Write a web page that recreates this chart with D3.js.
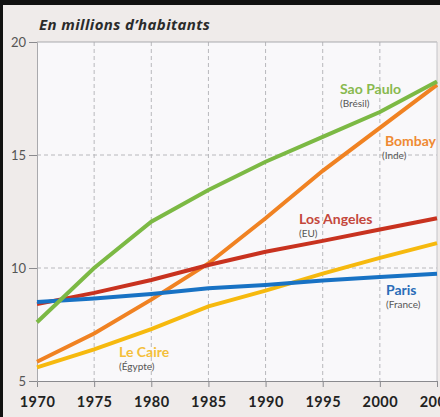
<!DOCTYPE html>
<html>
<head>
<meta charset="utf-8">
<script src="https://cdn.jsdelivr.net/npm/d3@7"></script>
<style>
  html, body { margin: 0; padding: 0; background: #efebea; }
  svg { display: block; }
</style>
</head>
<body>
<div id="chart"></div>
<script>
// années (axe des x)
const years = [1970, 1975, 1980, 1985, 1990, 1995, 2000, 2005];
const yTicks = [5, 10, 15, 20];

// population en millions
const saoPaulo   = [7.6, 10.0, 12.05, 13.45, 14.7, 15.8, 16.9, 18.25];
const bombay     = [5.85, 7.1, 8.6, 10.2, 12.2, 14.3, 16.2, 18.1];
const losAngeles = [8.4, 8.9, 9.47, 10.13, 10.72, 11.2, 11.7, 12.2];
const paris      = [8.5, 8.65, 8.85, 9.1, 9.25, 9.45, 9.6, 9.75];
const leCaire    = [5.6, 6.4, 7.3, 8.3, 9.0, 9.75, 10.45, 11.1];

const cities = [
    { name: "Le Caire",    country: "(Égypte)",  values: leCaire,    color: "#f6b90e", text: "#f4bf3a" },
    { name: "Bombay",      country: "(Inde)",    values: bombay,     color: "#f08222", text: "#ef8a33" },
    { name: "Los Angeles", country: "(EU)",      values: losAngeles, color: "#c8321f", text: "#c4473b" },
    { name: "Paris",       country: "(France)",  values: paris,      color: "#1872c4", text: "#2a6cb8" },
    { name: "Sao Paulo",   country: "(Brésil)",  values: saoPaulo,   color: "#7cb944", text: "#88b94f" }
];

// où poser les étiquettes (px)
const labelPos = {
    "Sao Paulo":   { x: 340, y: 94,  anchor: "start" },
    "Bombay":      { x: 436, y: 146, anchor: "end", sub: 382 },
    "Los Angeles": { x: 299, y: 224, anchor: "start" },
    "Paris":       { x: 386, y: 295, anchor: "start" },
    "Le Caire":    { x: 119, y: 357, anchor: "start" }
};

const width = 440, height = 417;
const m = { left: 37, right: 437, top: 42, bottom: 381 };

const svg = d3.select("#chart").append("svg")
    .attr("width", width)
    .attr("height", height);

svg.append("rect")
    .attr("width", width).attr("height", height)
    .attr("fill", "#efebea");

// cadre noir (haut + gauche)
svg.append("rect").attr("x", 0).attr("y", 0).attr("width", width).attr("height", 5).attr("fill", "#111");
svg.append("rect").attr("x", 0).attr("y", 0).attr("width", 3).attr("height", height).attr("fill", "#111");

const x = d3.scaleLinear().domain([1970, 2005]).range([m.left, m.right]);
const y = d3.scaleLinear().domain([5, 20]).range([m.bottom, m.top]);

svg.append("rect")
    .attr("x", m.left).attr("y", m.top)
    .attr("width", m.right - m.left).attr("height", m.bottom - m.top)
    .attr("fill", "#f9f8fa");

svg.append("text")
    .attr("x", 39).attr("y", 30)
    .attr("font-family", "'Open Sans', Lato, sans-serif")
    .attr("font-style", "italic")
    .attr("font-weight", "bold")
    .attr("font-size", 15)
    .attr("letter-spacing", 0.4)
    .attr("fill", "#2b2b2b")
    .text("En millions d\u2019habitants");

// grille pointillée
svg.append("g")
    .selectAll("line")
    .data(years.slice(1, -1))
    .join("line")
    .attr("x1", d => x(d)).attr("x2", d => x(d))
    .attr("y1", m.top).attr("y2", m.bottom)
    .attr("stroke", "#b8b8bc")
    .attr("stroke-width", 1)
    .attr("stroke-dasharray", "4,3");

svg.append("g")
    .selectAll("line")
    .data([10, 15])
    .join("line")
    .attr("x1", m.left).attr("x2", m.right)
    .attr("y1", d => y(d)).attr("y2", d => y(d))
    .attr("stroke", "#b8b8bc")
    .attr("stroke-width", 1)
    .attr("stroke-dasharray", "4,3");

// bords du graphique
svg.append("line").attr("x1", m.left).attr("x2", m.right).attr("y1", m.top).attr("y2", m.top)
    .attr("stroke", "#a9a9ad");
svg.append("line").attr("x1", m.right).attr("x2", m.right).attr("y1", m.top).attr("y2", m.bottom)
    .attr("stroke", "#c4c4c8");

// axes
const xAxis = svg.append("g")
    .attr("transform", `translate(0,${m.bottom})`)
    .call(d3.axisBottom(x).tickValues(years).tickFormat(d3.format("d")).tickSize(6).tickPadding(10));
const yAxis = svg.append("g")
    .attr("transform", `translate(${m.left},0)`)
    .call(d3.axisLeft(y).tickValues(yTicks).tickSize(8).tickPadding(3));

xAxis.select(".domain").attr("stroke", "#8a8a8e");
yAxis.select(".domain").attr("stroke", "#a9a9ad");
xAxis.selectAll(".tick line").attr("stroke", "#8a8a8e");
yAxis.selectAll(".tick line").attr("stroke", "#8a8a8e");
xAxis.selectAll("text")
    .attr("font-family", "Lato, sans-serif")
    .attr("font-weight", "bold")
    .attr("font-size", 14.5)
    .attr("letter-spacing", 0.5)
    .attr("fill", "#222");
yAxis.selectAll("text")
    .attr("font-family", "Lato, sans-serif")
    .attr("font-size", 13)
    .attr("fill", "#555");

// courbes
const line = d3.line()
    .x((d, i) => x(years[i]))
    .y(d => y(d));

svg.append("g")
    .selectAll("path")
    .data(cities)
    .join("path")
    .attr("d", d => line(d.values))
    .attr("fill", "none")
    .attr("stroke", d => d.color)
    .attr("stroke-width", 4);

// étiquettes
const labels = svg.append("g")
    .attr("font-family", "Lato, 'Open Sans', sans-serif");

cities.forEach(c => {
    const p = labelPos[c.name];
    labels.append("text")
        .attr("x", p.x).attr("y", p.y)
        .attr("text-anchor", p.anchor)
        .attr("font-weight", "bold")
        .attr("font-size", 14)
        .attr("fill", c.text)
        .text(c.name);
    labels.append("text")
        .attr("x", p.sub || p.x).attr("y", p.y + 13)
        .attr("font-size", 10)
        .attr("fill", "#555")
        .text(c.country);
});
</script>
</body>
</html>
